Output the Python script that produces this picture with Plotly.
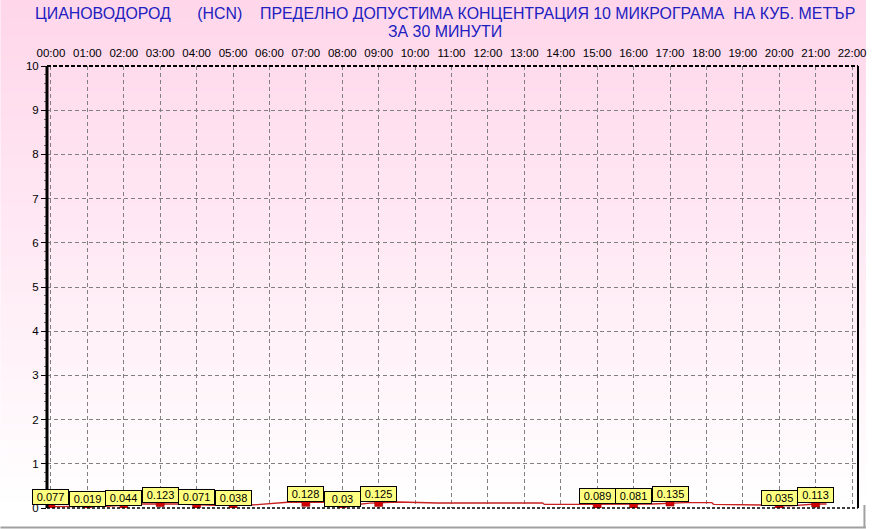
import base64, struct, zlib
import plotly.graph_objects as go

# ---------------- data ----------------
tick_hours = list(range(0, 23))
tick_labels = [f"{h:02d}:00" for h in tick_hours]

label_hours = [0, 1, 2, 3, 4, 5, 7, 8, 9, 15, 16, 17, 20, 21]
label_values = [0.077, 0.019, 0.044, 0.123, 0.071, 0.038, 0.128, 0.03, 0.125,
                0.089, 0.081, 0.135, 0.035, 0.113]

line_hours = [0, 0.45, 1.5, 2.5, 3.5, 4.5, 5.5, 6.5, 7.6, 8.3, 8.75, 9.55, 10.6,
              13.5, 13.55, 14.5, 15.5, 16.5, 17.4, 18.15, 18.2, 18.9, 18.95,
              19.55, 20.3, 21.0, 21.3]
line_values = [0.03, 0.03, 0.04, 0.09, 0.09, 0.06, 0.068, 0.13, 0.13, 0.068, 0.11,
               0.136, 0.113, 0.113, 0.08, 0.08, 0.09, 0.09, 0.12, 0.12, 0.084,
               0.084, 0.068, 0.068, 0.05, 0.09, 0.09]

title_line1 = "ЦИАНОВОДОРОД      (HCN)    ПРЕДЕЛНО ДОПУСТИМА КОНЦЕНТРАЦИЯ 10 МИКРОГРАМА  НА КУБ. МЕТЪР"
title_line2 = "ЗА 30 МИНУТИ"

# ---------------- geometry ----------------
W, H = 874, 529
L, R, T, B = 47, 8, 66, 21
PW, PH = W - L - R, H - T - B


def px_x(px):
    return (px - L) / PW


def px_y(py):
    return (H - B - py) / PH


# ---------------- gradient background image ----------------
def gradient_png(height):
    rows = []
    for y in range(height):
        if y <= 508:
            t = y / 508.0
            g = int(round(214 + (255 - 214) * t))
            b = int(round(234 + (255 - 234) * t))
            rows.append(bytes([0, 255, g, b]))
        else:
            rows.append(bytes([0, 255, 255, 255]))
    raw = b"".join(rows)

    def chunk(tag, data):
        c = struct.pack(">I", len(data)) + tag + data
        return c + struct.pack(">I", zlib.crc32(tag + data) & 0xffffffff)

    png = b"\x89PNG\r\n\x1a\n"
    png += chunk(b"IHDR", struct.pack(">IIBBBBB", 1, height, 8, 2, 0, 0, 0))
    png += chunk(b"IDAT", zlib.compress(raw))
    png += chunk(b"IEND", b"")
    return "data:image/png;base64," + base64.b64encode(png).decode()


fig = go.Figure()

fig.add_trace(go.Scatter(
    x=line_hours, y=line_values, mode="lines",
    line=dict(color="#C81E1E", width=1.3), hoverinfo="skip", showlegend=False))

fig.add_trace(go.Scatter(
    x=label_hours, y=label_values, mode="markers",
    marker=dict(symbol="square", size=8, color="#D00000",
                line=dict(color="#900000", width=0.5)),
    showlegend=False))

for h, v in zip(label_hours, label_values):
    fig.add_annotation(
        x=h, y=v, xref="x", yref="y", text=str(v), showarrow=False,
        xanchor="center", yanchor="bottom",
        font=dict(family="Arial, Liberation Sans", size=11, color="black"),
        bgcolor="#FFFF80", bordercolor="black", borderwidth=1, borderpad=1,
        width=33, height=12)

fig.add_annotation(
    x=px_x(449), y=px_y(13.5), xref="paper", yref="paper",
    text=title_line1.replace(" ", "\u00a0"), showarrow=False,
    xanchor="center", yanchor="middle",
    font=dict(family="Arial, Liberation Sans", size=15.9, color="#2020C0"))
fig.add_annotation(
    x=px_x(449), y=px_y(31), xref="paper", yref="paper",
    text=title_line2.replace(" ", "\u00a0"), showarrow=False,
    xanchor="center", yanchor="middle",
    font=dict(family="Arial, Liberation Sans", size=15.9, color="#2020C0"))

shapes = [
    dict(type="line", xref="paper", yref="paper", x0=0, x1=0, y0=0, y1=1,
         line=dict(color="black", width=3)),
    dict(type="line", xref="paper", yref="paper", x0=0, x1=1, y0=1, y1=1,
         line=dict(color="black", width=2, dash="4px,2px")),
    dict(type="line", xref="paper", yref="paper", x0=1, x1=1, y0=0, y1=1,
         line=dict(color="black", width=2)),
    dict(type="line", xref="paper", yref="paper", x0=0, x1=1, y0=0, y1=0,
         line=dict(color="black", width=1.5, dash="3px,2px")),
    dict(type="line", xref="paper", yref="paper", x0=px_x(0), x1=px_x(874),
         y0=px_y(527.5), y1=px_y(527.5), line=dict(color="#A0A0A0", width=2)),
    dict(type="line", xref="paper", yref="paper", x0=px_x(872.5), x1=px_x(872.5),
         y0=px_y(505), y1=px_y(528), line=dict(color="#A0A0A0", width=2)),
]

fig.update_layout(
    width=W, height=H,
    margin=dict(l=L, r=R, t=T, b=B, pad=0),
    paper_bgcolor="white",
    plot_bgcolor="rgba(0,0,0,0)",
    showlegend=False,
    shapes=shapes,
    images=[dict(source=gradient_png(H), xref="paper", yref="paper",
                 x=px_x(0), y=px_y(0), sizex=W / PW, sizey=H / PH,
                 sizing="stretch", xanchor="left", yanchor="top",
                 layer="below")],
    xaxis=dict(
        side="top", range=[-0.109, 22.163],
        tickmode="array", tickvals=tick_hours, ticktext=tick_labels,
        showgrid=True, gridcolor="#808080", gridwidth=1, griddash="4px,3px",
        zeroline=False, showline=False, ticks="", ticklabelstandoff=6,
        ticklabeloverflow="allow",
        tickfont=dict(family="Arial, Liberation Sans", size=11.5, color="black"),
        fixedrange=True),
    yaxis=dict(
        range=[0, 10], tickmode="linear", tick0=0, dtick=1,
        showgrid=True, gridcolor="#808080", gridwidth=1, griddash="4px,3px",
        zeroline=False, showline=False, ticks="outside", ticklen=5,
        tickcolor="black", tickwidth=1,
        minor=dict(ticks="outside", ticklen=2, dtick=0.2, tickcolor="#707070",
                   tickwidth=1, showgrid=False),
        tickfont=dict(family="Arial, Liberation Sans", size=11.5, color="black"),
        fixedrange=True),
)

fig.write_html("out.html",
               config={"displayModeBar": False},
               post_script="document.body.style.margin='0';"
                           "document.body.style.overflow='hidden';")
